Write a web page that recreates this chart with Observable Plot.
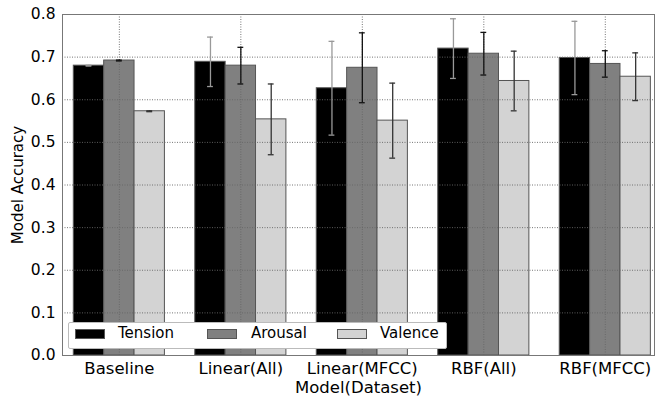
<!DOCTYPE html>
<html>
<head>
<meta charset="utf-8">
<script src="https://cdn.jsdelivr.net/npm/d3@7"></script>
<script src="https://cdn.jsdelivr.net/npm/@observablehq/plot@0.6"></script>
<style>
  html, body { margin: 0; padding: 0; background: #fff; }
  #wrap { position: relative; width: 655px; height: 400px; font-family: "DejaVu Sans", sans-serif; }
  .lg-box { position: absolute; left: 68px; top: 322px; width: 379px; height: 27px; box-sizing: border-box; border: 1px solid #bbb; border-radius: 2px; background: #fff; }
  .sw { position: absolute; top: 329px; width: 30px; height: 10px; box-sizing: border-box; border: 1px solid #555; }
  .lt { position: absolute; top: 326px; font-size: 15px; line-height: 15px; color: #000; white-space: nowrap; }
</style>
</head>
<body>
<div id="wrap"></div>
<script>
const categories = ["Baseline", "Linear(All)", "Linear(MFCC)", "RBF(All)", "RBF(MFCC)"];
const seriesNames = ["Tension", "Arousal", "Valence"];
const tension    = [0.680, 0.689, 0.627, 0.720, 0.698];
const tensionErr = [0.001, 0.058, 0.110, 0.070, 0.086];
const arousal    = [0.692, 0.680, 0.675, 0.708, 0.684];
const arousalErr = [0.001, 0.043, 0.082, 0.050, 0.031];
const valence    = [0.573, 0.554, 0.551, 0.644, 0.654];
const valenceErr = [0.001, 0.083, 0.088, 0.070, 0.056];
const yTicks = [0, 0.1, 0.2, 0.3, 0.4, 0.5, 0.6, 0.7, 0.8];

const fills = ["#000000", "#808080", "#d3d3d3"];
const errColors = ["#999999", "#111111", "#333333"];
const barW = 0.25;
const values = [tension, arousal, valence];
const errs = [tensionErr, arousalErr, valenceErr];

const rows = [];
categories.forEach((c, i) => {
  seriesNames.forEach((s, j) => {
    rows.push({
      category: c, series: s,
      x1: i + j * barW, x2: i + (j + 1) * barW, xc: i + (j + 0.5) * barW,
      y: values[j][i], err: errs[j][i], errColor: errColors[j]
    });
  });
});
const tickPos = categories.map((c, i) => i + 1.5 * barW);
const capHalf = 0.024;

const chart = Plot.plot({
  width: 655,
  height: 400,
  marginLeft: 62,
  marginRight: 1,
  marginTop: 14,
  marginBottom: 45,
  style: { fontFamily: "DejaVu Sans", fontSize: "15px", color: "#000", background: "#fff" },
  x: { type: "linear", domain: [-0.093, 4.78] },
  y: { domain: [0, 0.8] },
  color: { domain: seriesNames, range: fills },
  marks: [
    Plot.rect(rows, { x1: "x1", x2: "x2", y1: 0, y2: "y", fill: "series", stroke: "#555", strokeWidth: 1 }),
    Plot.gridY(yTicks.slice(1, -1), { stroke: "#666", strokeOpacity: 0.9, strokeDasharray: "1,1.5", strokeWidth: 1 }),
    Plot.gridX(tickPos, { stroke: "#666", strokeOpacity: 0.9, strokeDasharray: "1,1.5", strokeWidth: 1 }),
    Plot.ruleX(rows, { x: "xc", y1: d => d.y - d.err, y2: d => d.y + d.err, stroke: "errColor", strokeWidth: 1.3 }),
    Plot.ruleY(rows, { y: d => d.y + d.err, x1: d => d.xc - capHalf, x2: d => d.xc + capHalf, stroke: "errColor", strokeWidth: 1.3 }),
    Plot.ruleY(rows, { y: d => d.y - d.err, x1: d => d.xc - capHalf, x2: d => d.xc + capHalf, stroke: "errColor", strokeWidth: 1.3 }),
    Plot.frame({ stroke: "#777", strokeWidth: 1 }),
    Plot.axisY({ ticks: yTicks, tickFormat: d3.format(".1f"), tickSize: 0, tickPadding: 7, fontSize: "15.5px", label: null }),
    Plot.axisX({ ticks: tickPos, tickFormat: d => categories[Math.round(d - 1.5 * barW)], tickSize: 0, tickPadding: 7, fontSize: "16.5px", label: null }),
    Plot.text(["Model(Dataset)"], { frameAnchor: "bottom", text: d => d, dy: 26, lineAnchor: "top", textAnchor: "middle", fontSize: "16.5px" }),
    Plot.text(["Model Accuracy"], { frameAnchor: "left", text: d => d, dx: -44, rotate: -90, textAnchor: "middle", lineAnchor: "middle", fontSize: "15px" })
  ]
});

const wrap = document.getElementById("wrap");
wrap.appendChild(chart);

// Legend
const box = document.createElement("div");
box.className = "lg-box";
wrap.appendChild(box);
const swLeft = [75, 207, 337];
const txtLeft = [118, 251, 380];
seriesNames.forEach((s, j) => {
  const sw = document.createElement("div");
  sw.className = "sw";
  sw.style.left = swLeft[j] + "px";
  sw.style.background = fills[j];
  wrap.appendChild(sw);
  const t = document.createElement("div");
  t.className = "lt";
  t.style.left = txtLeft[j] + "px";
  t.textContent = s;
  wrap.appendChild(t);
});
</script>
</body>
</html>
